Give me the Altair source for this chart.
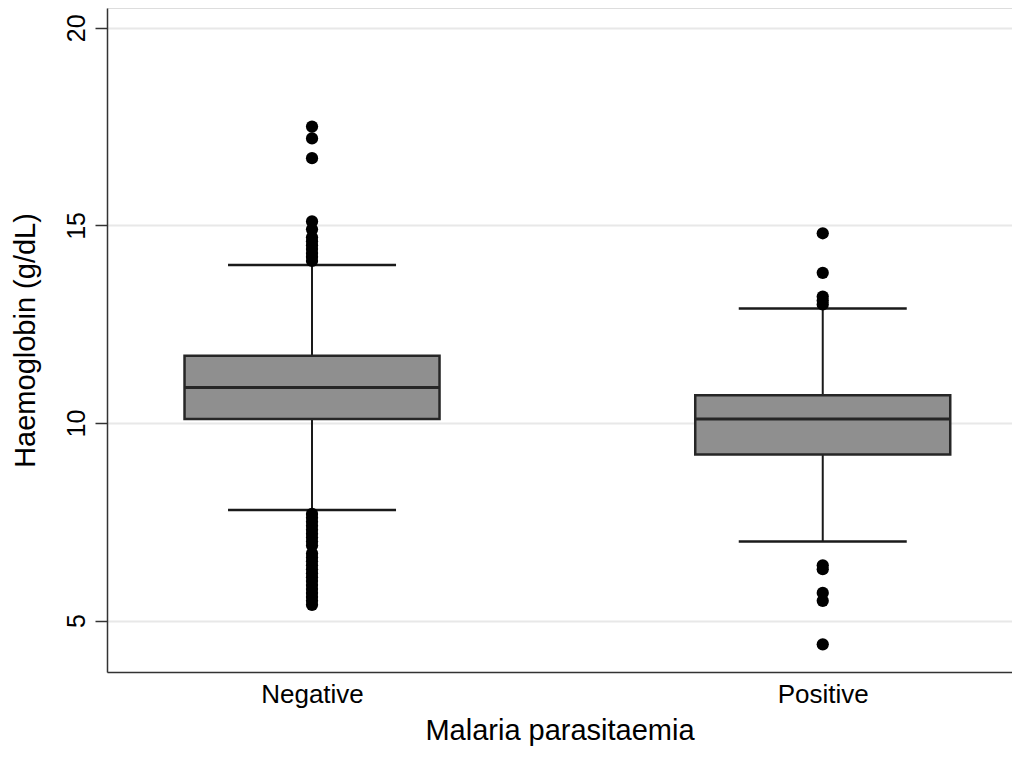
import altair as alt
import pandas as pd

groups = ["Negative", "Positive"]
q1 = [10.1, 9.2]
median = [10.9, 10.1]
q3 = [11.7, 10.7]
whisk_lo = [7.8, 7.0]
whisk_hi = [14.0, 12.9]

out_negative = [17.5, 17.2, 16.7, 15.1, 14.9, 14.7, 14.6, 14.5, 14.4, 14.3, 14.2, 14.1,
                7.7, 7.6, 7.5, 7.4, 7.3, 7.2, 7.1, 7.0, 6.9, 6.7, 6.6, 6.5, 6.4, 6.3,
                6.2, 6.1, 6.0, 5.9, 5.8, 5.7, 5.6, 5.5, 5.4]
out_positive = [14.8, 13.8, 13.2, 13.1, 13.0, 6.4, 6.3, 5.7, 5.5, 4.4]

y_ticks = [5, 10, 15, 20]

stats = pd.DataFrame({"group": groups, "q1": q1, "median": median, "q3": q3,
                      "lo": whisk_lo, "hi": whisk_hi})
outs = pd.DataFrame({"group": ["Negative"] * len(out_negative) + ["Positive"] * len(out_positive),
                     "value": out_negative + out_positive})

FONT = "Liberation Sans"

x_enc = alt.X("group:N", sort=groups,
              scale=alt.Scale(type="point", padding=0.386, align=0.52),
              axis=alt.Axis(title="Malaria parasitaemia", labelAngle=0, ticks=False,
                            labelFontSize=26, titleFontSize=29, labelPadding=9,
                            titlePadding=9, domainColor="#333333", domainWidth=1.5,
                            labelColor="black", titleColor="black", titleFontWeight="normal",
                            grid=False))
y_scale = alt.Scale(domain=[3.7, 20.5], nice=False, zero=False)
y_axis = alt.Axis(title="Haemoglobin (g/dL)", values=y_ticks, labelAngle=-90,
                  labelAlign="center", labelBaseline="bottom", tickSize=12,
                  labelFontSize=25, titleFontSize=29, labelPadding=6, titlePadding=24,
                  grid=True, gridColor="#e8e8e8", gridWidth=2,
                  domainColor="#333333", domainWidth=1.5, tickColor="#333333", tickWidth=1.5,
                  labelColor="black", titleColor="black", titleFontWeight="normal")

base = alt.Chart(stats)

whiskers = base.mark_rule(color="#1a1a1a", strokeWidth=2).encode(
    x=x_enc,
    y=alt.Y("lo:Q", scale=y_scale, axis=y_axis),
    y2="hi:Q")

box = base.mark_bar(size=255, color="#8f8f8f", stroke="#262626", strokeWidth=2.5).encode(
    x=alt.X("group:N", sort=groups),
    y=alt.Y("q1:Q"),
    y2="q3:Q")

med = base.mark_tick(size=255, thickness=3, color="#262626", opacity=1).encode(
    x=alt.X("group:N", sort=groups),
    y=alt.Y("median:Q"))

cap_hi = base.mark_tick(size=168, thickness=2.5, color="#1a1a1a", opacity=1).encode(
    x=alt.X("group:N", sort=groups), y=alt.Y("hi:Q"))
cap_lo = base.mark_tick(size=168, thickness=2.5, color="#1a1a1a", opacity=1).encode(
    x=alt.X("group:N", sort=groups), y=alt.Y("lo:Q"))

pts = alt.Chart(outs).mark_circle(size=150, color="black", opacity=1).encode(
    x=alt.X("group:N", sort=groups), y=alt.Y("value:Q"))

chart = alt.layer(whiskers, box, med, cap_hi, cap_lo, pts).properties(
    width=905, height=664,
    autosize=alt.AutoSizeParams(type="none"),
    padding={"left": 99, "top": 0, "right": 0, "bottom": 78},
).configure_view(strokeWidth=0).configure(font=FONT)

chart.save("out.html", embed_options={"renderer": "svg", "actions": False})
